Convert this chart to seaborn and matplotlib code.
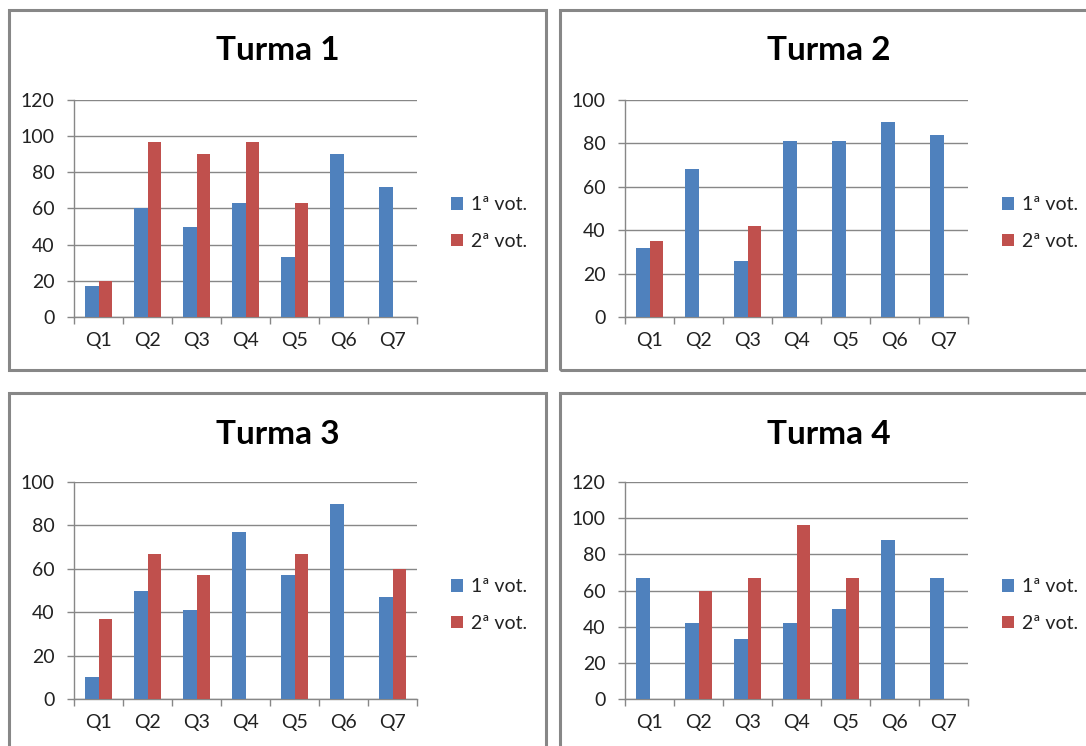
import numpy as np
import pandas as pd
import matplotlib
matplotlib.use("Agg")
import matplotlib.pyplot as plt
from matplotlib.patches import Rectangle
import seaborn as sns

# Results per class: share of votes per question in the 1st and 2nd round
questions = ["Q1", "Q2", "Q3", "Q4", "Q5", "Q6", "Q7"]
rounds = ["1ª vot.", "2ª vot."]
nan = np.nan

turma1_v1 = [17, 60, 50, 63, 33, 90, 72]
turma1_v2 = [20, 97, 90, 97, 63, nan, nan]
turma2_v1 = [32, 68, 26, 81, 81, 90, 84]
turma2_v2 = [35, nan, 42, nan, nan, nan, nan]
turma3_v1 = [10, 50, 41, 77, 57, 90, 47]
turma3_v2 = [37, 67, 57, nan, 67, nan, 60]
turma4_v1 = [67, 42, 33, 42, 50, 88, 67]
turma4_v2 = [nan, 60, 67, 96, 67, nan, nan]

panels = [
    ("Turma 1", turma1_v1, turma1_v2, 120),
    ("Turma 2", turma2_v1, turma2_v2, 100),
    ("Turma 3", turma3_v1, turma3_v2, 100),
    ("Turma 4", turma4_v1, turma4_v2, 120),
]

sns.set_theme(style="white")
plt.rcParams["font.family"] = ["Lato", "DejaVu Sans"]

W, H = 1086, 746
fig = plt.figure(figsize=(W / 100, H / 100), dpi=100)
fig.patch.set_facecolor("white")

GRAY = "#878787"
palette = {"1ª vot.": "#4F81BD", "2ª vot.": "#C0504D"}

# pixel layout: (frame left, frame top, axes left, axes zero line)
layout = [
    (9, 10, 74, 317),
    (560, 10, 625, 317),
    (9, 393, 74, 699),
    (560, 393, 625, 699),
]
ax_w, ax_h = 343, 217
frame_w, frame_h = 537, 360


def fx(x):
    return x / W


def fy(y):
    return 1 - y / H


for (title, v1, v2, ymax), (frx, fry, axl, ax0) in zip(panels, layout):
    # panel frame
    fig.patches.append(Rectangle((fx(frx), fy(fry + frame_h)), frame_w / W, frame_h / H,
                                 transform=fig.transFigure, fill=False,
                                 edgecolor=GRAY, linewidth=2.2, zorder=0))
    ax = fig.add_axes([fx(axl), fy(ax0), ax_w / W, ax_h / H])
    df = pd.DataFrame({
        "questão": questions * 2,
        "votação": [rounds[0]] * 7 + [rounds[1]] * 7,
        "valor": list(v1) + list(v2),
    })
    sns.barplot(data=df, x="questão", y="valor", hue="votação", order=questions,
                hue_order=rounds, palette=palette, width=0.56, saturation=1,
                edgecolor="none", ax=ax, zorder=3)
    ax.set_xlim(-0.5, 6.5)
    ax.set_ylim(0, ymax)
    ax.set_yticks(np.arange(0, ymax + 1, 20))
    ax.set_xlabel("")
    ax.set_ylabel("")
    ax.grid(axis="y", color=GRAY, linewidth=1.0, zorder=0)
    ax.grid(axis="x", visible=False)
    ax.set_axisbelow(True)
    for side in ("top", "right"):
        ax.spines[side].set_visible(False)
    for side in ("left", "bottom"):
        ax.spines[side].set_color(GRAY)
        ax.spines[side].set_linewidth(1.0)
    ax.set_xticks(np.arange(-0.5, 7, 1), minor=True)
    ax.tick_params(axis="x", which="major", length=0, pad=11, labelsize=14,
                   labelcolor="#222222")
    ax.tick_params(axis="x", which="minor", length=5, width=1, color=GRAY,
                   direction="out", bottom=True)
    ax.tick_params(axis="y", length=5, width=1, color=GRAY, direction="out",
                   left=True, pad=9, labelsize=14, labelcolor="#222222")

    handles, labels = ax.get_legend_handles_labels()
    ax.legend(handles, labels, loc="center left",
              bbox_to_anchor=(fx(axl + 377), fy(ax0 - 94)),
              bbox_transform=fig.transFigure, frameon=False,
              handlelength=0.6, handleheight=0.6, handletextpad=0.45,
              labelspacing=1.0, fontsize=14, borderpad=0, borderaxespad=0)
    for t in ax.get_legend().get_texts():
        t.set_color("#222222")

    fig.text(fx(frx + frame_w / 2), fy(fry + 41), title, ha="center",
             va="center", fontsize=24, fontweight="bold", color="black")

fig.savefig("out.png", dpi=100, facecolor="white")
